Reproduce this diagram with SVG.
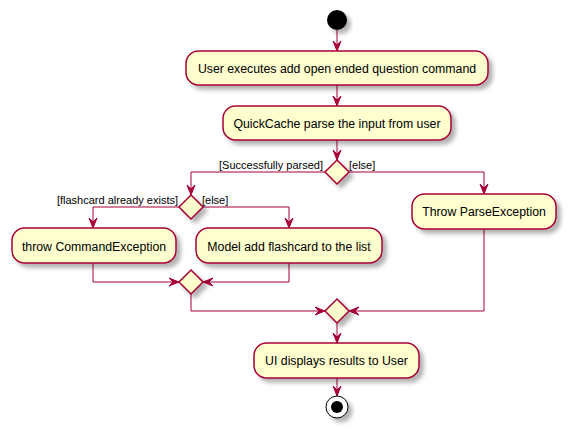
<svg xmlns="http://www.w3.org/2000/svg" width="571" height="436" viewBox="0 0 571 436">
<style>
.box{fill:#FEFECE;stroke:#A80036;stroke-width:1.5;filter:url(#sh)}
.dia{fill:#FEFECE;stroke:#A80036;stroke-width:1.5;filter:url(#sh)}
.t{font-family:"Liberation Sans",Arial,sans-serif;font-size:12.3px;fill:#000;text-anchor:middle}
.l{font-family:"Liberation Sans",Arial,sans-serif;font-size:11px;fill:#000}
.c{fill:none;stroke:#A80036;stroke-width:1;marker-end:url(#ah)}
</style>
<defs>
<filter id="sh" x="-20%" y="-20%" width="150%" height="160%">
<feDropShadow dx="4" dy="4" stdDeviation="2" flood-color="#000" flood-opacity="0.3"/>
</filter>
<marker id="ah" markerUnits="userSpaceOnUse" markerWidth="10" markerHeight="8" refX="10" refY="4" orient="auto" overflow="visible">
<path d="M0,0 L10,4 L0,8 L4,4 Z" fill="#A80036" stroke="#A80036" stroke-width="1"/>
</marker>
</defs>
<g id="connectors">
<path class="c" d="M337,30 L337,51"/>
<path class="c" d="M337,85 L337,106"/>
<path class="c" d="M337,140 L337,160"/>
<path class="c" d="M325,172 L191,172 L191,195"/>
<path class="c" d="M349,172 L484,172 L484,194"/>
<path class="c" d="M179,207 L93,207 L93,228"/>
<path class="c" d="M203,207 L289,207 L289,228"/>
<path class="c" d="M93,263 L93,282 L179,282"/>
<path class="c" d="M289,263 L289,282 L203,282"/>
<path class="c" d="M191,294 L191,311 L325,311"/>
<path class="c" d="M484,229 L484,311 L349,311"/>
<path class="c" d="M337,323 L337,343"/>
<path class="c" d="M337,378 L337,396"/>
<text class="l" x="323" y="169" text-anchor="end">[Successfully parsed]</text>
<text class="l" x="349" y="169">[else]</text>
<text class="l" x="178" y="203.5" text-anchor="end">[flashcard already exists]</text>
<text class="l" x="202" y="203.5">[else]</text>
</g>
<g id="start"><circle cx="337" cy="20" r="10" fill="#000" filter="url(#sh)"/></g>
<g id="userExecutes"><rect class="box" x="186" y="51" width="302" height="34" rx="12.5"/><text class="t" x="337" y="72.5">User executes add open ended question command</text></g>
<g id="parseInput"><rect class="box" x="223" y="106" width="228" height="34" rx="12.5"/><text class="t" x="337" y="127.5">QuickCache parse the input from user</text></g>
<g id="decision1"><polygon class="dia" points="337,160 349,172 337,184 325,172"/></g>
<g id="decision2"><polygon class="dia" points="191,195 203,207 191,219 179,207"/></g>
<g id="throwCommand"><rect class="box" x="12" y="228" width="164" height="35" rx="12.5"/><text class="t" x="94" y="250.5">throw CommandException</text></g>
<g id="modelAdd"><rect class="box" x="196" y="228" width="186" height="35" rx="12.5"/><text class="t" x="289" y="250.5">Model add flashcard to the list</text></g>
<g id="throwParse"><rect class="box" x="412" y="194" width="144" height="35" rx="12.5"/><text class="t" x="484" y="216">Throw ParseException</text></g>
<g id="merge1"><polygon class="dia" points="191,270 203,282 191,294 179,282"/></g>
<g id="merge2"><polygon class="dia" points="337,299 349,311 337,323 325,311"/></g>
<g id="uiDisplays"><rect class="box" x="254" y="343" width="165" height="35" rx="12.5"/><text class="t" x="336.5" y="365">UI displays results to User</text></g>
<g id="end"><circle cx="337" cy="407" r="11" fill="#fff" stroke="#000" stroke-width="1" filter="url(#sh)"/><circle cx="337" cy="407" r="6" fill="#000"/></g>
</svg>
